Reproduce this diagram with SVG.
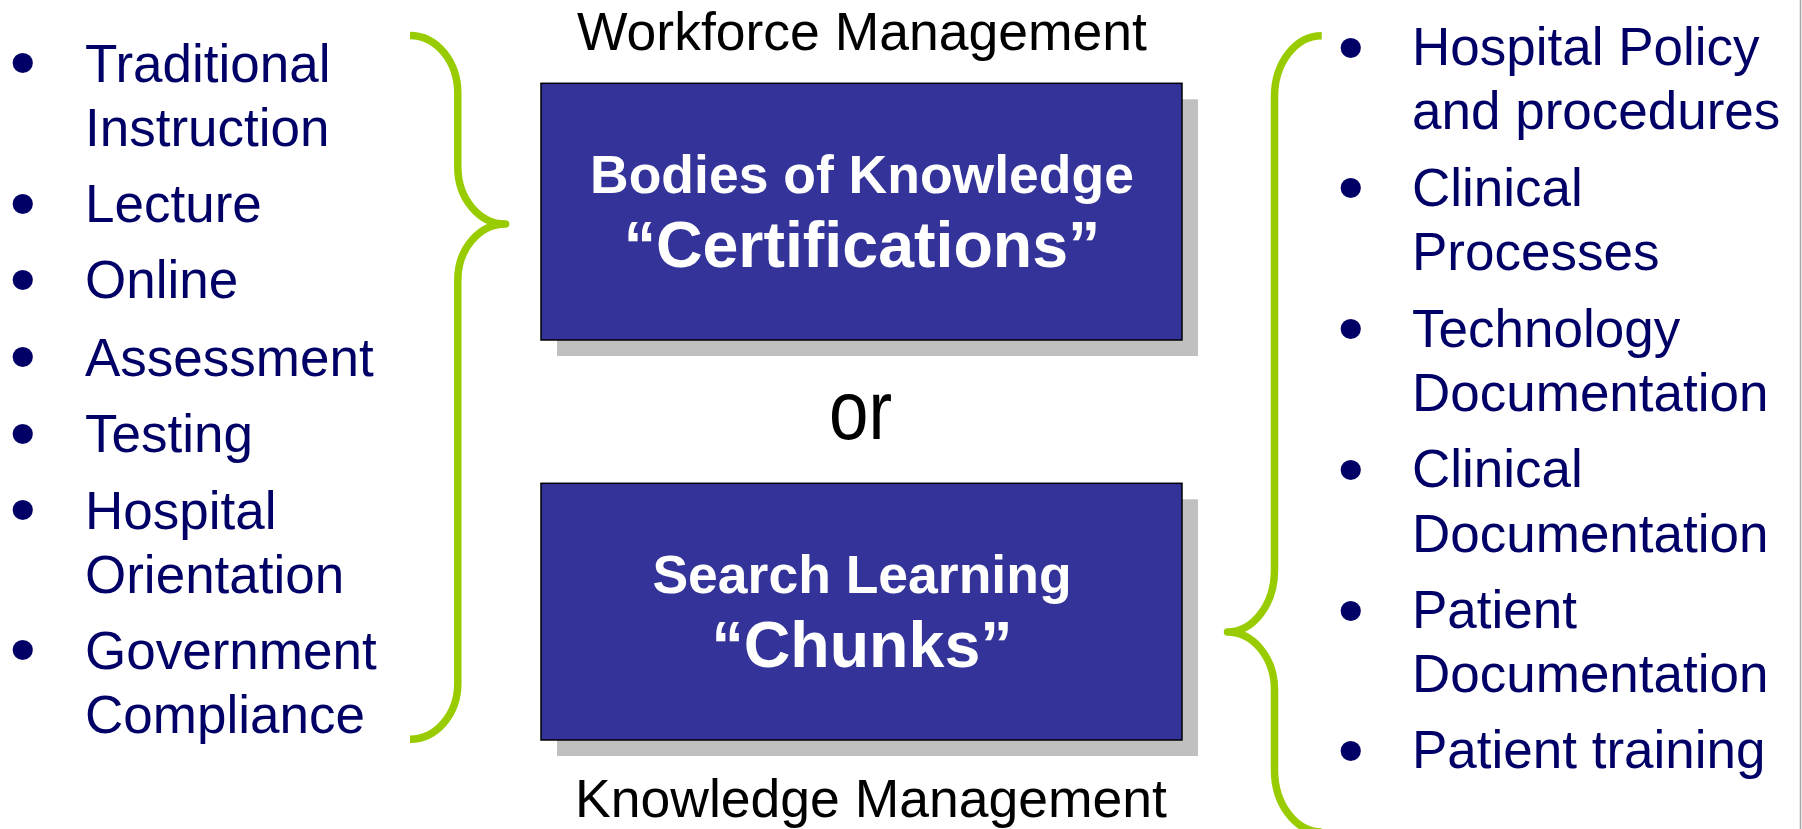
<svg xmlns="http://www.w3.org/2000/svg" width="1802" height="829" viewBox="0 0 1802 829">
  <style>
    .item { font-family: "Liberation Sans", Arial, sans-serif; font-size: 53px; fill: #000066; }
    .dot { font-family: "Liberation Sans", Arial, sans-serif; font-size: 60px; fill: #000066; stroke: #000066; stroke-width: 4; text-anchor: middle; }
    .caption { font-family: "Liberation Sans", Arial, sans-serif; font-size: 53.5px; fill: #000000; text-anchor: middle; }
    .box { fill: #333399; stroke: #000000; stroke-width: 1.5; }
    .shadow { fill: #C0C0C0; }
    .title { font-family: "Liberation Sans", Arial, sans-serif; font-weight: bold; fill: #FFFFFF; text-anchor: middle; }
    .sub { font-size: 53.5px; }
    .quote { font-size: 64.5px; }
    .brace { fill: none; stroke: #99CC00; stroke-width: 7.5; stroke-linejoin: round; stroke-linecap: butt; }
  </style>

  <rect x="0" y="0" width="1802" height="829" fill="#FFFFFF"/>
  <line x1="1800.5" y1="0" x2="1800.5" y2="829" stroke="#A6A6A6" stroke-width="1.5"/>

  <!-- left list: delivery methods -->
  <g id="methods-list">
    <text class="dot" x="22.7" y="82.9">•</text>
    <text class="item" x="85" y="81.7">Traditional</text>
    <text class="item" x="85" y="145.7">Instruction</text>
    <text class="dot" x="22.7" y="223.5">•</text>
    <text class="item" x="85" y="222.3">Lecture</text>
    <text class="dot" x="22.7" y="299.5">•</text>
    <text class="item" x="85" y="298.3">Online</text>
    <text class="dot" x="22.7" y="376.9">•</text>
    <text class="item" x="85" y="375.7">Assessment</text>
    <text class="dot" x="22.7" y="453.5">•</text>
    <text class="item" x="85" y="452.3">Testing</text>
    <text class="dot" x="22.7" y="530.2">•</text>
    <text class="item" x="85" y="529">Hospital</text>
    <text class="item" x="85" y="592.7">Orientation</text>
    <text class="dot" x="22.7" y="670.2">•</text>
    <text class="item" x="85" y="669">Government</text>
    <text class="item" x="85" y="733.3">Compliance</text>
  </g>

  <!-- top caption -->
  <g id="workforce-label">
    <text class="caption" x="862" y="50">Workforce Management</text>
  </g>

  <!-- upper box -->
  <g id="bodies-of-knowledge">
    <rect class="shadow" x="557" y="99.3" width="641" height="256.7"/>
    <rect class="box" x="541" y="83.3" width="641" height="256.7"/>
    <text class="title sub" x="862" y="193.3">Bodies of Knowledge</text>
    <text class="title quote" x="862" y="266.7">“Certifications”</text>
  </g>

  <!-- alternative marker -->
  <g id="or-label">
    <text class="caption" x="860.5" y="439.3" style="font-size:84px" textLength="63" lengthAdjust="spacingAndGlyphs">or</text>
  </g>

  <!-- lower box -->
  <g id="search-learning">
    <rect class="shadow" x="557" y="499.3" width="641" height="256.7"/>
    <rect class="box" x="541" y="483.3" width="641" height="256.7"/>
    <text class="title sub" x="862" y="593.3">Search Learning</text>
    <text class="title quote" x="862" y="666.7">“Chunks”</text>
  </g>

  <!-- bottom caption -->
  <g id="knowledge-label">
    <text class="caption" x="871" y="816.7">Knowledge Management</text>
  </g>

  <!-- right list: content sources -->
  <g id="content-list">
    <text class="dot" x="1350.7" y="67.7">•</text>
    <text class="item" x="1412" y="65">Hospital Policy</text>
    <text class="item" x="1412" y="129">and procedures</text>
    <text class="dot" x="1350.7" y="208.4">•</text>
    <text class="item" x="1412" y="205.7">Clinical</text>
    <text class="item" x="1412" y="270">Processes</text>
    <text class="dot" x="1350.7" y="349.4">•</text>
    <text class="item" x="1412" y="346.7">Technology</text>
    <text class="item" x="1412" y="410.7">Documentation</text>
    <text class="dot" x="1350.7" y="490">•</text>
    <text class="item" x="1412" y="487.3">Clinical</text>
    <text class="item" x="1412" y="551.7">Documentation</text>
    <text class="dot" x="1350.7" y="631">•</text>
    <text class="item" x="1412" y="628.3">Patient</text>
    <text class="item" x="1412" y="692.3">Documentation</text>
    <text class="dot" x="1350.7" y="771">•</text>
    <text class="item" x="1412" y="768.3">Patient training</text>
  </g>

  <!-- braces grouping the lists toward the boxes -->
  <g id="connectors">
    <path class="brace" d="M410,35.5 A47.8,58 0 0 1 457.8,93.5 V167 A47.8,57 0 0 0 505.6,224 A47.8,56 0 0 0 457.8,280 V683 A47.8,56 0 0 1 410,739.3"/>
    <path class="brace" d="M1321.7,35.7 A47.2,61 0 0 0 1274.5,96.7 V570 A47,62 0 0 1 1227.5,632 A47,58 0 0 1 1274.5,690 V770 A47.2,62 0 0 0 1321.7,832"/>
  </g>
</svg>
